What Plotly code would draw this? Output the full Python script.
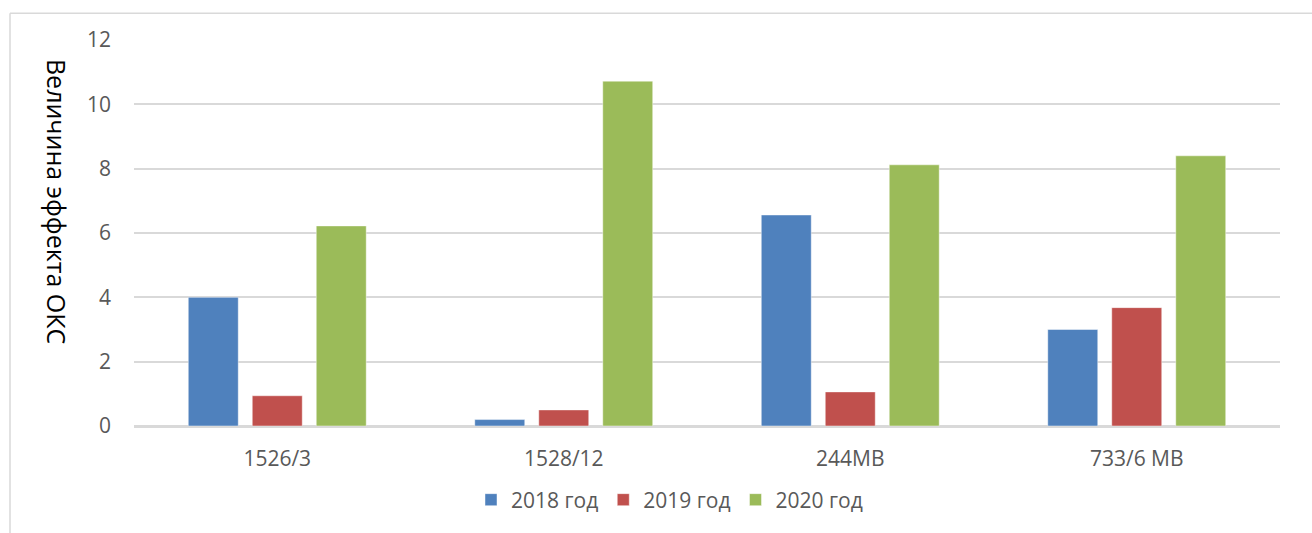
import plotly.graph_objects as go

# Data
categories = ["1526/3", "1528/12", "244MB", "733/6 MB"]
series_names = ["2018 год", "2019 год", "2020 год"]
values_2018 = [4.0, 0.2, 6.56, 3.0]
values_2019 = [0.94, 0.5, 1.06, 3.68]
values_2020 = [6.22, 10.72, 8.12, 8.4]
y_ticks = [0, 2, 4, 6, 8, 10, 12]

colors = ["#4F81BD", "#C0504D", "#9BBB59"]
grid = "#D9D9D9"
tick_font = dict(family="Open Sans, DejaVu Sans, sans-serif", size=21, color="#595959")

fig = go.Figure()
for name, vals, col in zip(series_names, [values_2018, values_2019, values_2020], colors):
    fig.add_trace(go.Bar(
        x=categories, y=vals, name=name,
        marker=dict(color=col, line=dict(color="rgba(255,255,255,0.45)", width=1)),
    ))

W, H = 1312, 533
L, R, T, B = 134, 32, 40, 104.5
pw, ph = W - L - R, H - T - B

def px_x(p):
    return (p - L) / pw

def px_y(p):
    return (H - B - p) / ph

fig.update_layout(
    width=W, height=H,
    margin=dict(l=L, r=R, t=T, b=B, pad=0),
    paper_bgcolor="white", plot_bgcolor="white",
    barmode="group", bargap=0.33, bargroupgap=0.219,
    showlegend=True,
    legend=dict(
        orientation="h", x=px_x(669.5), xanchor="center",
        y=px_y(503), yanchor="middle",
        font=tick_font, traceorder="normal",
    ),
    xaxis=dict(
        showline=True, linecolor=grid, linewidth=1.5,
        showgrid=False, ticks="", tickfont=tick_font,
        ticklabelstandoff=13, fixedrange=True,
    ),
    yaxis=dict(
        range=[0, 12], tickvals=y_ticks, showgrid=True, gridcolor=grid,
        gridwidth=1.5, zeroline=True, zerolinecolor=grid, zerolinewidth=1.5,
        showline=False, ticks="", tickfont=tick_font,
        ticklabelstandoff=22, fixedrange=True,
    ),
    annotations=[dict(
        text="Величина эффекта ОКС", textangle=90,
        xref="paper", yref="paper", x=px_x(57), y=px_y(202),
        xanchor="center", yanchor="middle", showarrow=False,
        font=dict(family="Open Sans, DejaVu Sans, sans-serif", size=25, color="#000000"),
    )],
    shapes=[
        dict(type="line", xref="paper", yref="paper",
             x0=px_x(10), x1=px_x(1330), y0=px_y(13), y1=px_y(13),
             line=dict(color=grid, width=1.5)),
        dict(type="line", xref="paper", yref="paper",
             x0=px_x(10), x1=px_x(10), y0=px_y(13), y1=px_y(560),
             line=dict(color=grid, width=1.5)),
    ],
)

fig.write_html("out.html")
